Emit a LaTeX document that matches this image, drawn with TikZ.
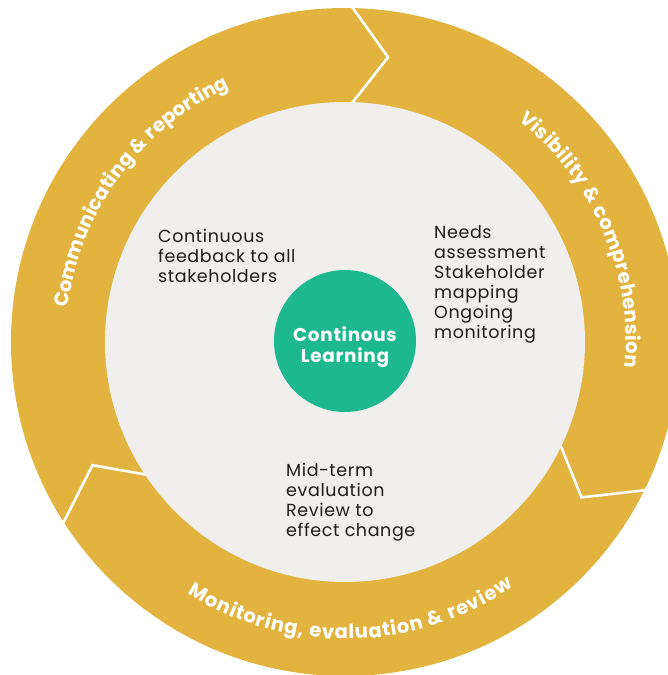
\documentclass[tikz,border=0pt]{standalone}
\usepackage{fontspec}
\setmainfont{Poppins}[LetterSpace=3.5]
\usepackage{xcolor}
\usetikzlibrary{decorations.text}
\definecolor{ringgold}{RGB}{226,179,63}
\definecolor{corepaper}{RGB}{240,239,237}
\definecolor{learnteal}{RGB}{29,184,142}
\definecolor{inkdark}{RGB}{30,30,30}
\newcommand{\ringfont}{\fontsize{19.5}{22}\bfseries\selectfont}

\begin{document}
\begin{tikzpicture}[
    x=1pt, y=1pt,
    note/.style={
      align=left,
      anchor=north west,
      inner sep=0pt,
      text=inkdark,
      font=\fontsize{17.5}{20}\selectfont
    },
    chevron/.style={draw=white, line width=2.6pt, line join=miter},
    ringlabel/.style={
      decorate,
      decoration={text along path, text align=fit to path}
    }
  ]
    \useasboundingbox (-345,-333) rectangle (323,342);
    \clip (-345,-333) rectangle (323,342);

    % outer ring and the three arrow joints
    \node[circle, fill=ringgold, minimum size=668pt, inner sep=0pt] (ring) at (0,0) {};
    \coordinate (jtopin) at (90:230);
    \coordinate (jtoptip) at (81.4:288);
    \coordinate (jtopout) at (90:345);
    \coordinate (jrightin) at (-23.5:230);
    \coordinate (jrighttip) at (-33.3:283);
    \coordinate (jrightout) at (-25.2:345);
    \coordinate (jleftin) at (215.9:230);
    \coordinate (jlefttip) at (206:281);
    \coordinate (jleftout) at (213.7:345);
    \draw[chevron] (jtopin) -- (jtoptip) -- (jtopout);
    \draw[chevron] (jrightin) -- (jrighttip) -- (jrightout);
    \draw[chevron] (jleftin) -- (jlefttip) -- (jleftout);

    % inner disc and centre
    \node[circle, fill=corepaper, minimum size=480pt, inner sep=0pt] (core) at (0,0) {};
    \node[circle, fill=learnteal, minimum size=142pt, inner sep=0pt] (learning) at (0,1) {};
    \node[align=center, text=white, inner sep=0pt,
      font=\fontsize{18.5}{21}\bfseries\selectfont]
      (learningtext) at ([yshift=-6pt]learning.center) {Continous\\Learning};

    % ring labels
    \path[ringlabel, decoration={text={|\color{white}\ringfont|Communicating {\&} reporting}}]
      (173:279) arc[start angle=173, end angle=114.5, radius=279];
    \path[ringlabel, decoration={text={|\color{white}\ringfont|Visibility {\&} comprehension}}]
      (52:281) arc[start angle=52, end angle=-5.2, radius=281];
    \path[ringlabel, decoration={text={|\color{white}\ringfont|Monitoring, evaluation {\&} review}}]
      (238:297) arc[start angle=238, end angle=304.5, radius=297];

    % stage notes
    \node[note] (feedback) at (-187,113) {Continuous\\feedback to all\\stakeholders};
    \node[note] (needs) at (89,117) {Needs\\assessment\\Stakeholder\\mapping\\Ongoing\\monitoring};
    \node[note] (review) at (-59,-121) {Mid-term\\evaluation\\Review to\\effect change};
  \end{tikzpicture}
\end{document}
